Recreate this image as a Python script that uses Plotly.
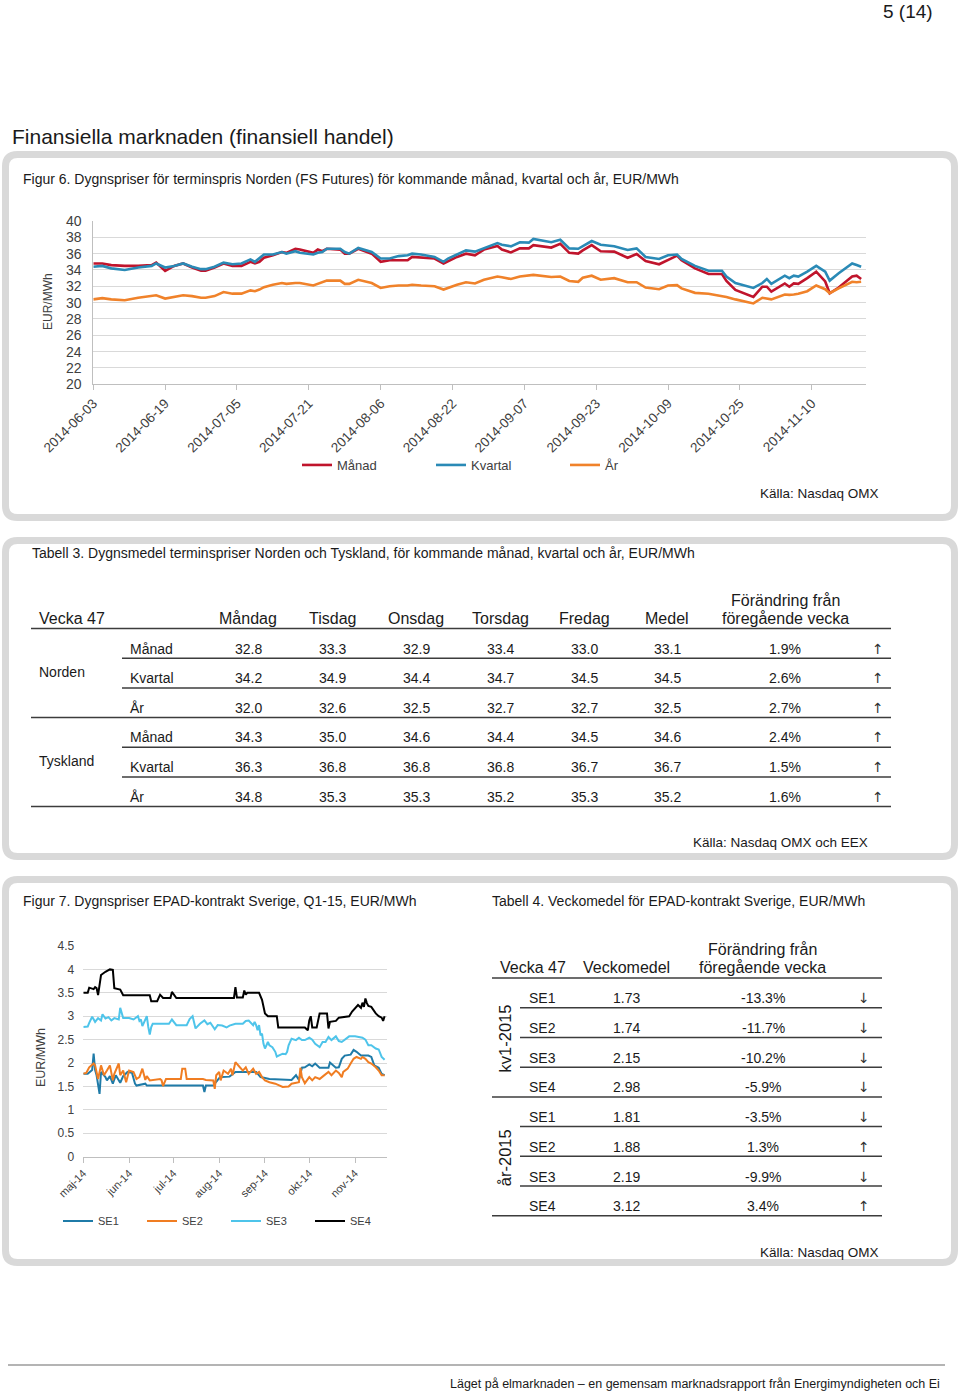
import plotly.graph_objects as go

W, H = 960, 1394
def X(px): return px / W
def Y(py): return 1 - py / H

FONT = "Liberation Sans, Arial, sans-serif"
TXT = "#1a1a1a"
AX = "#404040"

# ---------------- Figur 6 data ----------------
f6_dates = ["2014-06-03","2014-06-05","2014-06-07","2014-06-10","2014-06-13","2014-06-16","2014-06-17","2014-06-19",
            "2014-06-21","2014-06-23","2014-06-25","2014-06-27","2014-06-28","2014-06-30","2014-07-02","2014-07-04",
            "2014-07-06","2014-07-08","2014-07-09","2014-07-10","2014-07-11","2014-07-13","2014-07-15","2014-07-16",
            "2014-07-18","2014-07-19","2014-07-22","2014-07-23","2014-07-24","2014-07-25","2014-07-28","2014-07-29",
            "2014-07-30","2014-08-01","2014-08-04","2014-08-06","2014-08-08","2014-08-10","2014-08-12","2014-08-13",
            "2014-08-15","2014-08-18","2014-08-20","2014-08-21","2014-08-23","2014-08-25","2014-08-27","2014-08-29",
            "2014-09-01","2014-09-02","2014-09-04","2014-09-06","2014-09-08","2014-09-09","2014-09-13","2014-09-15",
            "2014-09-17","2014-09-19","2014-09-20","2014-09-22","2014-09-24","2014-09-27","2014-09-30","2014-10-02",
            "2014-10-04","2014-10-07","2014-10-09","2014-10-11","2014-10-12","2014-10-15","2014-10-18","2014-10-21",
            "2014-10-22","2014-10-24","2014-10-28","2014-10-30","2014-10-31","2014-11-01","2014-11-04","2014-11-05",
            "2014-11-06","2014-11-07","2014-11-09","2014-11-11","2014-11-13","2014-11-14","2014-11-16","2014-11-19",
            "2014-11-20","2014-11-21"]
f6_manad = [34.8,34.8,34.6,34.5,34.5,34.6,34.9,33.9,34.5,34.8,34.3,33.9,33.9,34.3,34.8,34.5,
            34.5,35.0,34.8,35.0,35.5,35.8,36.2,36.1,36.6,36.5,36.1,36.5,36.3,36.6,36.5,36.0,
            36.0,36.6,36.0,35.0,35.2,35.2,35.2,35.6,35.5,35.4,34.8,35.1,35.6,36.0,35.8,36.5,
            36.95,36.5,36.15,36.65,36.65,37.05,36.75,37.2,36.1,36.0,36.4,37.05,36.3,36.25,35.5,35.95,
            35.1,34.7,35.2,35.75,35.2,34.2,33.5,33.5,32.65,31.55,30.7,31.95,31.95,31.35,32.35,31.95,
            32.35,32.3,33.0,33.8,32.6,31.15,31.85,33.2,33.3,32.9]
f6_kvartal = [34.4,34.5,34.2,34.0,34.3,34.5,34.8,34.3,34.5,34.8,34.4,34.1,34.1,34.4,34.9,34.7,
              34.8,35.3,35.0,35.4,35.9,35.9,36.2,36.0,36.3,36.1,35.9,36.1,36.2,36.6,36.6,36.2,
              36.0,36.7,36.2,35.4,35.4,35.7,35.8,36.0,35.9,35.6,35.0,35.4,35.9,36.4,36.25,36.7,
              37.3,37.1,36.9,37.4,37.35,37.8,37.4,37.7,36.65,36.6,36.9,37.55,37.1,36.9,36.45,36.65,
              35.6,35.35,35.8,35.9,35.35,34.5,33.9,33.9,33.2,32.4,31.8,32.4,32.9,32.3,33.3,33.0,
              33.3,33.2,33.8,34.5,33.8,32.7,33.6,34.8,34.6,34.4]
f6_ar = [30.4,30.55,30.4,30.3,30.6,30.8,30.9,30.5,30.7,30.9,30.8,30.6,30.6,30.8,31.3,31.1,
         31.1,31.5,31.4,31.6,31.9,32.2,32.4,32.3,32.4,32.4,32.1,32.3,32.5,32.7,32.7,32.3,
         32.3,32.8,32.4,31.8,32.0,32.1,32.1,32.2,32.1,32.0,31.6,31.8,32.2,32.5,32.35,32.8,
         33.2,33.1,32.9,33.2,33.3,33.4,33.15,33.2,32.65,32.55,33.05,33.3,32.8,33.0,32.5,32.5,
         31.85,31.65,32.1,32.15,31.75,31.2,31.1,30.85,30.7,30.4,29.9,30.6,30.5,30.4,31.0,30.95,
         31.0,31.1,31.4,32.1,31.65,31.15,31.75,32.55,32.5,32.55]
f6_ticks = ["2014-06-03","2014-06-19","2014-07-05","2014-07-21","2014-08-06","2014-08-22",
            "2014-09-07","2014-09-23","2014-10-09","2014-10-25","2014-11-10"]
f6_yticks = [20,22,24,26,28,30,32,34,36,38,40]

# ---------------- Figur 7 data ----------------
se1_dates = ["2014-05-01","2014-05-04","2014-05-07","2014-05-08","2014-05-09","2014-05-10","2014-05-12","2014-05-13",
             "2014-05-16","2014-05-17","2014-05-19","2014-05-21","2014-05-23","2014-05-26","2014-05-28","2014-05-31",
             "2014-06-03","2014-06-05","2014-06-06","2014-06-12","2014-06-13","2014-07-21","2014-07-22","2014-07-23",
             "2014-07-28","2014-07-30","2014-08-01","2014-08-03","2014-08-08","2014-08-12","2014-08-26","2014-08-29",
             "2014-09-04","2014-09-19","2014-09-22","2014-09-24","2014-09-26","2014-09-28","2014-10-01","2014-10-03",
             "2014-10-05","2014-10-08","2014-10-14","2014-10-15","2014-10-19","2014-10-21","2014-10-23","2014-10-25",
             "2014-10-29","2014-10-31","2014-11-02","2014-11-05","2014-11-10","2014-11-12","2014-11-14","2014-11-17",
             "2014-11-19","2014-11-21"]
se1_vals = [1.77,1.77,1.85,2.2,1.85,1.74,1.34,1.81,1.7,1.63,1.72,1.56,1.74,1.58,1.72,1.81,
            1.79,1.56,1.52,1.56,1.52,1.52,1.38,1.52,1.52,1.6,1.68,1.7,1.71,1.81,1.81,1.7,
            1.66,1.64,1.74,1.64,1.9,1.91,1.97,1.93,1.99,1.9,1.9,2.01,1.9,1.91,2.09,2.16,
            2.18,2.28,2.24,2.16,2.16,2.13,1.95,1.9,1.77,1.74]

se2_dates = ["2014-05-01","2014-05-03","2014-05-05","2014-05-08","2014-05-09","2014-05-11","2014-05-13","2014-05-15",
             "2014-05-17","2014-05-19","2014-05-21","2014-05-22","2014-05-25","2014-05-26","2014-05-28","2014-05-30",
             "2014-06-01","2014-06-04","2014-06-06","2014-06-08","2014-06-10","2014-06-12","2014-06-13","2014-06-15",
             "2014-06-22","2014-06-23","2014-06-24","2014-06-26","2014-07-06","2014-07-07","2014-07-09","2014-07-10",
             "2014-07-21","2014-07-23","2014-07-28","2014-07-29","2014-07-30","2014-08-01","2014-08-02","2014-08-04",
             "2014-08-07","2014-08-09","2014-08-10","2014-08-12","2014-08-15","2014-08-17","2014-08-19","2014-08-21",
             "2014-08-24","2014-08-26","2014-08-28","2014-08-30","2014-09-01","2014-09-04","2014-09-08","2014-09-13",
             "2014-09-17","2014-09-19","2014-09-24","2014-09-25","2014-09-26","2014-09-28","2014-10-01","2014-10-03",
             "2014-10-05","2014-10-08","2014-10-10","2014-10-14","2014-10-16","2014-10-19","2014-10-21","2014-10-23",
             "2014-10-24","2014-10-27","2014-10-29","2014-10-31","2014-11-02","2014-11-05","2014-11-06","2014-11-08",
             "2014-11-10","2014-11-12","2014-11-15","2014-11-17","2014-11-19","2014-11-21"]
se2_vals = [1.77,1.79,1.91,1.99,1.95,1.66,1.95,1.74,1.84,1.95,1.63,1.77,1.99,1.74,1.84,1.59,
            1.84,1.81,1.66,1.7,1.88,1.64,1.72,1.63,1.66,1.63,1.51,1.66,1.66,1.88,1.88,1.66,
            1.66,1.64,1.63,1.45,1.74,1.81,1.63,1.84,1.77,1.88,1.74,2.02,1.91,1.84,1.91,1.77,
            1.88,1.77,1.81,1.7,1.63,1.59,1.56,1.49,1.5,1.56,1.59,1.9,1.7,1.57,1.7,1.63,
            1.7,1.66,1.71,1.81,1.74,1.84,1.79,1.7,1.81,1.88,1.99,2.09,2.13,2.09,2.13,2.09,
            2.02,1.99,1.91,1.84,1.74,1.74]

se3_dates = ["2014-05-01","2014-05-04","2014-05-05","2014-05-07","2014-05-09","2014-05-11","2014-05-13","2014-05-14",
             "2014-05-16","2014-05-18","2014-05-20","2014-05-22","2014-05-25","2014-05-26","2014-05-28","2014-06-01",
             "2014-06-04","2014-06-07","2014-06-08","2014-06-09","2014-06-10","2014-06-13","2014-06-14","2014-06-15",
             "2014-06-16","2014-06-17","2014-06-26","2014-06-28","2014-06-30","2014-07-03","2014-07-10","2014-07-12",
             "2014-07-14","2014-07-16","2014-07-19","2014-07-22","2014-07-24","2014-07-26","2014-07-29","2014-07-31",
             "2014-08-03","2014-08-06","2014-08-08","2014-08-12","2014-08-17","2014-08-19","2014-08-21","2014-08-24",
             "2014-08-25","2014-08-26","2014-08-27","2014-08-28","2014-08-29","2014-08-30","2014-08-31","2014-09-01",
             "2014-09-03","2014-09-04","2014-09-06","2014-09-08","2014-09-09","2014-09-13","2014-09-15","2014-09-16",
             "2014-09-17","2014-09-19","2014-09-22","2014-09-24","2014-09-26","2014-09-28","2014-10-01","2014-10-03",
             "2014-10-05","2014-10-08","2014-10-10","2014-10-12","2014-10-14","2014-10-16","2014-10-19","2014-10-21",
             "2014-10-23","2014-10-28","2014-11-01","2014-11-06","2014-11-08","2014-11-10","2014-11-12","2014-11-15",
             "2014-11-17","2014-11-19","2014-11-21"]
se3_vals = [2.77,2.78,2.86,2.99,2.88,2.96,2.91,3.04,2.95,2.98,2.91,2.96,2.93,3.18,2.96,2.96,
            2.93,3.0,2.9,2.93,2.79,3.0,2.77,2.61,2.77,2.84,2.84,2.84,2.93,2.81,2.81,2.94,
            3.0,2.74,2.84,2.91,2.83,2.86,2.72,2.81,2.8,2.76,2.8,2.84,2.84,2.9,2.91,2.81,
            2.88,2.81,2.7,2.81,2.59,2.63,2.41,2.31,2.45,2.38,2.34,2.24,2.14,2.2,2.19,2.24,
            2.38,2.52,2.49,2.54,2.49,2.49,2.54,2.5,2.41,2.34,2.45,2.45,2.56,2.49,2.57,2.47,
            2.45,2.57,2.57,2.54,2.5,2.38,2.38,2.31,2.29,2.13,2.07]

se4_dates = ["2014-05-01","2014-05-04","2014-05-05","2014-05-08","2014-05-09","2014-05-10","2014-05-11","2014-05-13",
             "2014-05-16","2014-05-19","2014-05-21","2014-05-22","2014-05-26","2014-05-28","2014-06-15","2014-06-16",
             "2014-06-20","2014-06-22","2014-06-24","2014-06-29","2014-06-30","2014-07-03","2014-08-11","2014-08-12",
             "2014-08-13","2014-08-17","2014-08-18","2014-08-19","2014-08-20","2014-08-28","2014-08-30","2014-09-01",
             "2014-09-03","2014-09-09","2014-09-10","2014-09-28","2014-09-30","2014-10-01","2014-10-02","2014-10-03",
             "2014-10-06","2014-10-08","2014-10-13","2014-10-14","2014-10-15","2014-10-19","2014-10-21","2014-10-28",
             "2014-10-30","2014-11-02","2014-11-03","2014-11-05","2014-11-06","2014-11-07","2014-11-08","2014-11-09",
             "2014-11-10","2014-11-12","2014-11-15","2014-11-17","2014-11-19","2014-11-20","2014-11-21"]
se4_vals = [3.5,3.5,3.61,3.58,3.62,3.6,3.45,3.88,3.95,4.0,3.99,3.6,3.57,3.45,3.45,3.32,
            3.32,3.46,3.39,3.39,3.52,3.39,3.39,3.62,3.4,3.4,3.55,3.46,3.5,3.5,3.35,3.06,
            3.0,3.0,2.76,2.76,2.7,2.91,3.0,2.76,2.76,3.06,3.06,2.74,2.88,2.9,2.97,3.0,
            3.1,3.2,3.24,3.18,3.29,3.2,3.38,3.28,3.22,3.2,3.06,3.0,2.97,2.9,3.0]

f7_tick_dates = ["2014-05-01","2014-06-01","2014-07-01","2014-08-01","2014-09-01","2014-10-01","2014-11-01"]
f7_tick_labels = ["maj-14","jun-14","jul-14","aug-14","sep-14","okt-14","nov-14"]
f7_yticks = [0,0.5,1,1.5,2,2.5,3,3.5,4,4.5]
f7_yticklabels = ["0","0.5","1","1.5","2","2.5","3","3.5","4","4.5"]

# ---------------- Tabell 3 data ----------------
t3_week = "Vecka 47"
t3_days = ["Måndag","Tisdag","Onsdag","Torsdag","Fredag","Medel"]
t3_regions = ["Norden","Tyskland"]
t3_products = ["Månad","Kvartal","År"]
t3_values = [
    [32.8,33.3,32.9,33.4,33.0,33.1],
    [34.2,34.9,34.4,34.7,34.5,34.5],
    [32.0,32.6,32.5,32.7,32.7,32.5],
    [34.3,35.0,34.6,34.4,34.5,34.6],
    [36.3,36.8,36.8,36.8,36.7,36.7],
    [34.8,35.3,35.3,35.2,35.3,35.2],
]
t3_change = [1.9,2.6,2.7,2.4,1.5,1.6]

# ---------------- Tabell 4 data ----------------
t4_groups = ["kv1-2015","år-2015"]
t4_areas = ["SE1","SE2","SE3","SE4"]
t4_means = [[1.73,1.74,2.15,2.98],[1.81,1.88,2.19,3.12]]
t4_change = [[-13.3,-11.7,-10.2,-5.9],[-3.5,1.3,-9.9,3.4]]

# ---------------- colours ----------------
C_MANAD, C_KVARTAL, C_AR = "#C0142C", "#2A8AB6", "#F0822A"
C_SE1, C_SE2, C_SE3, C_SE4 = "#1F7BA8", "#F07D22", "#4EC4EA", "#000000"

fig = go.Figure()
for name, vals, col in [("Månad", f6_manad, C_MANAD), ("Kvartal", f6_kvartal, C_KVARTAL), ("År", f6_ar, C_AR)]:
    fig.add_trace(go.Scatter(x=f6_dates, y=vals, name=name, mode="lines",
                             line=dict(color=col, width=2.6), xaxis="x", yaxis="y", legend="legend"))
for name, xs, vals, col in [("SE1", se1_dates, se1_vals, C_SE1), ("SE2", se2_dates, se2_vals, C_SE2),
                            ("SE3", se3_dates, se3_vals, C_SE3), ("SE4", se4_dates, se4_vals, C_SE4)]:
    fig.add_trace(go.Scatter(x=xs, y=vals, name=name, mode="lines",
                             line=dict(color=col, width=2), xaxis="x2", yaxis="y2", legend="legend2"))

shapes = []
def rrect(x0, y0, x1, y1, r):
    return (f"M {X(x0+r)},{Y(y0)} L {X(x1-r)},{Y(y0)} Q {X(x1)},{Y(y0)} {X(x1)},{Y(y0+r)} "
            f"L {X(x1)},{Y(y1-r)} Q {X(x1)},{Y(y1)} {X(x1-r)},{Y(y1)} L {X(x0+r)},{Y(y1)} "
            f"Q {X(x0)},{Y(y1)} {X(x0)},{Y(y1-r)} L {X(x0)},{Y(y0+r)} Q {X(x0)},{Y(y0)} {X(x0+r)},{Y(y0)} Z")
for (y0, y1) in [(154.5, 517.5), (540.5, 856.5), (879.5, 1262.5)]:
    shapes.append(dict(type="path", path=rrect(5.5, y0, 954.5, y1, 12), xref="paper", yref="paper",
                       line=dict(color="#d9d9d9", width=7), fillcolor="white", layer="below"))
def hline(x0, x1, y, color="#3c3c3c", width=1.5):
    shapes.append(dict(type="line", xref="paper", yref="paper", x0=X(x0), x1=X(x1), y0=Y(y), y1=Y(y),
                       line=dict(color=color, width=width)))
# footer rule
hline(8, 945, 1365, color="#b4b4b4", width=2)

ann = []
def text(s, x, y, size, anchor="left", color=TXT, angle=0, family=FONT):
    ann.append(dict(text=s, x=X(x), y=Y(y), xref="paper", yref="paper", showarrow=False,
                    xanchor=anchor, yanchor="middle", textangle=angle,
                    font=dict(family=family, size=size, color=color)))
ARROWFONT = "DejaVu Sans, sans-serif"

# page texts
text("5 (14)", 935, 11, 19, "right")
text("Finansiella marknaden (finansiell handel)", 10, 137, 21)
text("Figur 6. Dygnspriser för terminspris Norden (FS Futures) för kommande månad, kvartal och år, EUR/MWh", 21, 179, 14)
text("EUR/MWh", 48, 302, 12, "center", AX, -90)
text("Källa: Nasdaq OMX", 881, 493, 13.5, "right")

# Tabell 3
text("Tabell 3. Dygnsmedel terminspriser Norden och Tyskland, för kommande månad, kvartal och år, EUR/MWh", 30, 553, 14)
t3_cols = [248, 332, 416, 500, 584, 667]
text(t3_week, 37, 618, 16)
for cx, d in zip(t3_cols, t3_days):
    text(d, cx, 618, 16, "center")
text("Förändring från", 785, 600, 16, "center")
text("föregående vecka", 785, 618, 16, "center")
hline(31, 891, 628.5)
row0, rstep = 648.5, 29.65
for i, vals in enumerate(t3_values):
    ry = row0 + i * rstep
    text(t3_products[i % 3], 128, ry, 14)
    for cx, v in zip(t3_cols, vals):
        text(f"{v:.1f}", cx, ry, 14, "center")
    text(f"{t3_change[i]:.1f}%", 785, ry, 14, "center")
    text("↑" if t3_change[i] > 0 else "↓", 878, ry, 14, "center", "#333333", 0, ARROWFONT)
    full = (i % 3 == 2)
    hline(31 if full else 122, 891, ry + 9.8)
for g, reg in enumerate(t3_regions):
    text(reg, 37, row0 + (3 * g + 0.8) * rstep, 14)
text("Källa: Nasdaq OMX och EEX", 870, 842, 13.5, "right")

# Figur 7 texts
text("Figur 7. Dygnspriser EPAD-kontrakt Sverige, Q1-15, EUR/MWh", 21, 901, 14)
text("EUR/MWh", 41, 1058, 12.5, "center", AX, -90)

# Tabell 4
text("Tabell 4. Veckomedel för EPAD-kontrakt Sverige, EUR/MWh", 490, 901, 14)
text("Förändring från", 762, 949, 16, "center")
text("föregående vecka", 762, 967, 16, "center")
text("Vecka 47", 498, 967, 16)
text("Veckomedel", 626, 967, 16, "center")
hline(492, 882, 978)
t4_row0, t4_step = 998.3, 29.7
for g in range(2):
    for j in range(4):
        k = g * 4 + j
        ry = t4_row0 + k * t4_step
        text(t4_areas[j], 527, ry, 14)
        text(f"{t4_means[g][j]:.2f}", 626, ry, 14, "center")
        text(f"{t4_change[g][j]:.1f}%", 763, ry, 14, "center")
        text("↑" if t4_change[g][j] > 0 else "↓", 864, ry, 14, "center", "#333333", 0, ARROWFONT)
        hline(492 if j == 3 else 520, 882, ry + 9.5)
    text(t4_groups[g], 505, t4_row0 + (4 * g + 1.35) * t4_step, 16.5, "center", TXT, -90)
text("Källa: Nasdaq OMX", 881, 1252, 13.5, "right")

# footer
text("Läget på elmarknaden – en gemensam marknadsrapport från Energimyndigheten och Ei", 942, 1384, 12.5, "right")

fig.update_layout(
    width=W, height=H, autosize=False,
    margin=dict(l=0, r=0, t=0, b=0, autoexpand=False),
    paper_bgcolor="white", plot_bgcolor="rgba(0,0,0,0)",
    font=dict(family=FONT, color=AX),
    shapes=shapes, annotations=ann,
    xaxis=dict(domain=[X(93.3), X(866)], anchor="y", type="date", automargin=False,
               range=["2014-06-03", "2014-11-22 02:00"],
               tickmode="array", tickvals=f6_ticks, ticktext=f6_ticks, tickangle=-45,
               tickfont=dict(size=13.5, color=AX, family=FONT),
               showline=True, linecolor="#bfbfbf", linewidth=1, ticks="outside", ticklen=5,
               tickcolor="#bfbfbf", showgrid=False, zeroline=False),
    yaxis=dict(domain=[Y(384.3), Y(221)], anchor="x", range=[20, 40], automargin=False,
               tickmode="array", tickvals=f6_yticks,
               tickfont=dict(size=14, color=AX, family=FONT),
               showgrid=True, gridcolor="#d9d9d9", gridwidth=1,
               showline=True, linecolor="#bfbfbf", ticks="", ticklabelstandoff=8, zeroline=False),
    xaxis2=dict(domain=[X(83.3), X(386.7)], anchor="y2", type="date", automargin=False,
                range=["2014-05-01", "2014-11-22 10:00"],
                tickmode="array", tickvals=f7_tick_dates, ticktext=f7_tick_labels, tickangle=-45,
                tickfont=dict(size=11, color=AX, family=FONT),
                showline=True, linecolor="#bfbfbf", ticks="outside", ticklen=5, tickcolor="#bfbfbf",
                showgrid=False, zeroline=False),
    yaxis2=dict(domain=[Y(1156.7), Y(946)], anchor="x2", range=[0, 4.5], automargin=False,
                tickmode="array", tickvals=f7_yticks, ticktext=f7_yticklabels,
                tickfont=dict(size=12, color=AX, family=FONT),
                showgrid=True, gridcolor="#d9d9d9", showline=False, ticks="", ticklabelstandoff=8,
                zeroline=False),
    legend=dict(orientation="h", x=X(297), y=Y(465), xanchor="left", yanchor="middle",
                font=dict(size=13, color=AX, family=FONT), bgcolor="rgba(0,0,0,0)",
                entrywidth=89, entrywidthmode="pixels"),
    legend2=dict(orientation="h", x=X(58), y=Y(1221), xanchor="left", yanchor="middle",
                 font=dict(size=11, color=AX, family=FONT), bgcolor="rgba(0,0,0,0)",
                 entrywidth=39, entrywidthmode="pixels"),
)

fig.write_html("out.html", config={"displayModeBar": False},
               post_script="document.body.style.margin='0px'; document.body.style.overflow='hidden';")
